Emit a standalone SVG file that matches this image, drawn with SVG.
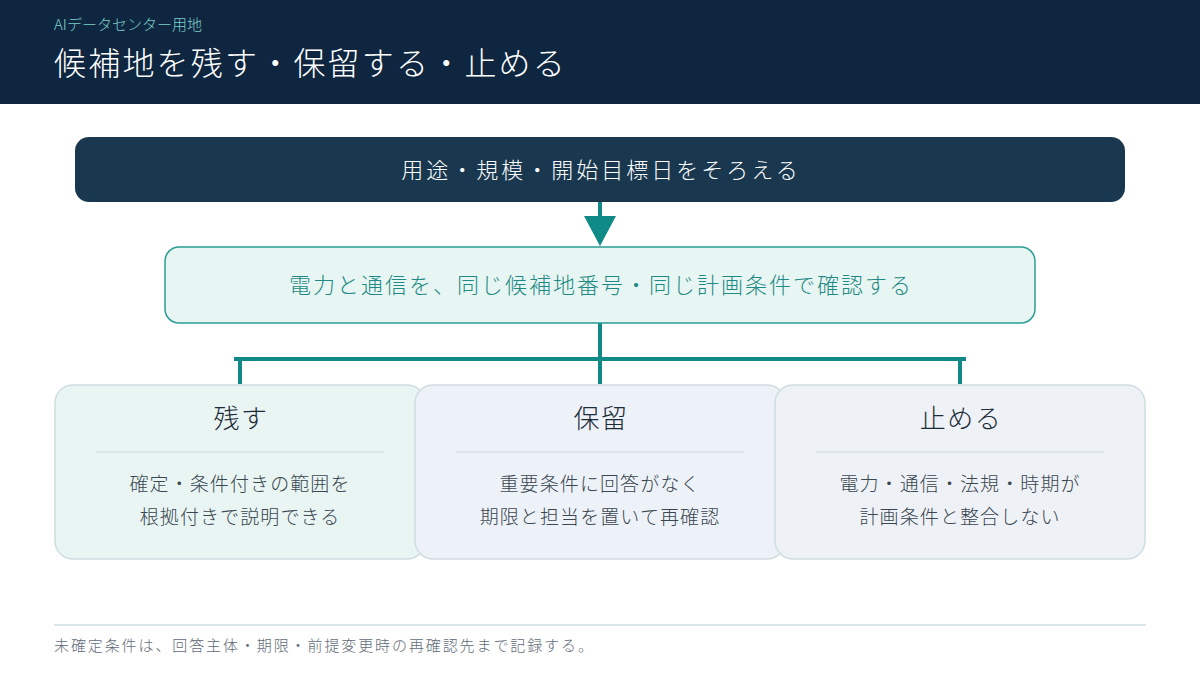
<svg xmlns="http://www.w3.org/2000/svg" width="1200" height="675" viewBox="0 0 1200 675">
<style>
text{font-family:"Noto Sans CJK JP","Noto Sans",sans-serif;font-weight:300}
.c{text-anchor:middle}
.card{stroke:#cfdde2;stroke-width:1.5}
.h{font-size:26px;fill:#1c2b38;letter-spacing:1.5px}
.b{font-size:19px;fill:#3a4650;letter-spacing:1.1px}
.line{stroke:#0f8a86;stroke-width:4;fill:none}
</style>
<rect width="1200" height="675" fill="#ffffff"/>
<g id="header">
<rect width="1200" height="104" fill="#0e2640"/>
<text x="54" y="30" font-size="15" fill="#7fd0cc">AIデータセンター用地</text>
<text x="54" y="75" font-size="32" fill="#ffffff" letter-spacing="2.2">候補地を残す・保留する・止める</text>
</g>
<g id="connectors">
<line class="line" x1="600" y1="202" x2="600" y2="222"/>
<polygon points="584,216 616,216 600,246" fill="#0f8a86"/>
<line class="line" x1="600" y1="322" x2="600" y2="384"/>
<line class="line" x1="234" y1="359" x2="966" y2="359"/>
<line class="line" x1="240" y1="359" x2="240" y2="384"/>
<line class="line" x1="960" y1="359" x2="960" y2="384"/>
</g>
<g id="top">
<rect x="75" y="137" width="1050" height="65" rx="14" fill="#19384f"/>
<text class="c" x="601" y="178" font-size="22" fill="#ffffff" letter-spacing="3">用途・規模・開始目標日をそろえる</text>
</g>
<g id="confirm">
<rect x="165" y="247" width="870" height="76" rx="14" fill="#e8f6f3" stroke="#2a9c94" stroke-width="1.5"/>
<text class="c" x="601" y="293" font-size="22" fill="#1f8a85" letter-spacing="2">電力と通信を、同じ候補地番号・同じ計画条件で確認する</text>
</g>
<g id="keep">
<rect class="card" x="55" y="385" width="370" height="174" rx="18" fill="#e8f5f3"/>
<text class="c h" x="241" y="428">残す</text>
<line x1="96" y1="452" x2="384" y2="452" stroke="#d3dfe3" stroke-width="1.5"/>
<text class="c b" x="240" y="491">確定・条件付きの範囲を</text>
<text class="c b" x="240" y="524">根拠付きで説明できる</text>
</g>
<g id="hold">
<rect class="card" x="415" y="385" width="370" height="174" rx="18" fill="#edf2f8"/>
<text class="c h" x="601" y="428">保留</text>
<line x1="456" y1="452" x2="744" y2="452" stroke="#d3dfe3" stroke-width="1.5"/>
<text class="c b" x="600" y="491">重要条件に回答がなく</text>
<text class="c b" x="600" y="524">期限と担当を置いて再確認</text>
</g>
<g id="stop">
<rect class="card" x="775" y="385" width="370" height="174" rx="18" fill="#eef2f6"/>
<text class="c h" x="961" y="428">止める</text>
<line x1="816" y1="452" x2="1104" y2="452" stroke="#d3dfe3" stroke-width="1.5"/>
<text class="c b" x="960" y="491">電力・通信・法規・時期が</text>
<text class="c b" x="960" y="524">計画条件と整合しない</text>
</g>
<line x1="54" y1="625" x2="1146" y2="625" stroke="#cfdde2" stroke-width="1.5"/>
<text x="54" y="651" font-size="15" fill="#5f6c78" letter-spacing="1.9">未確定条件は、回答主体・期限・前提変更時の再確認先まで記録する。</text>
</svg>
